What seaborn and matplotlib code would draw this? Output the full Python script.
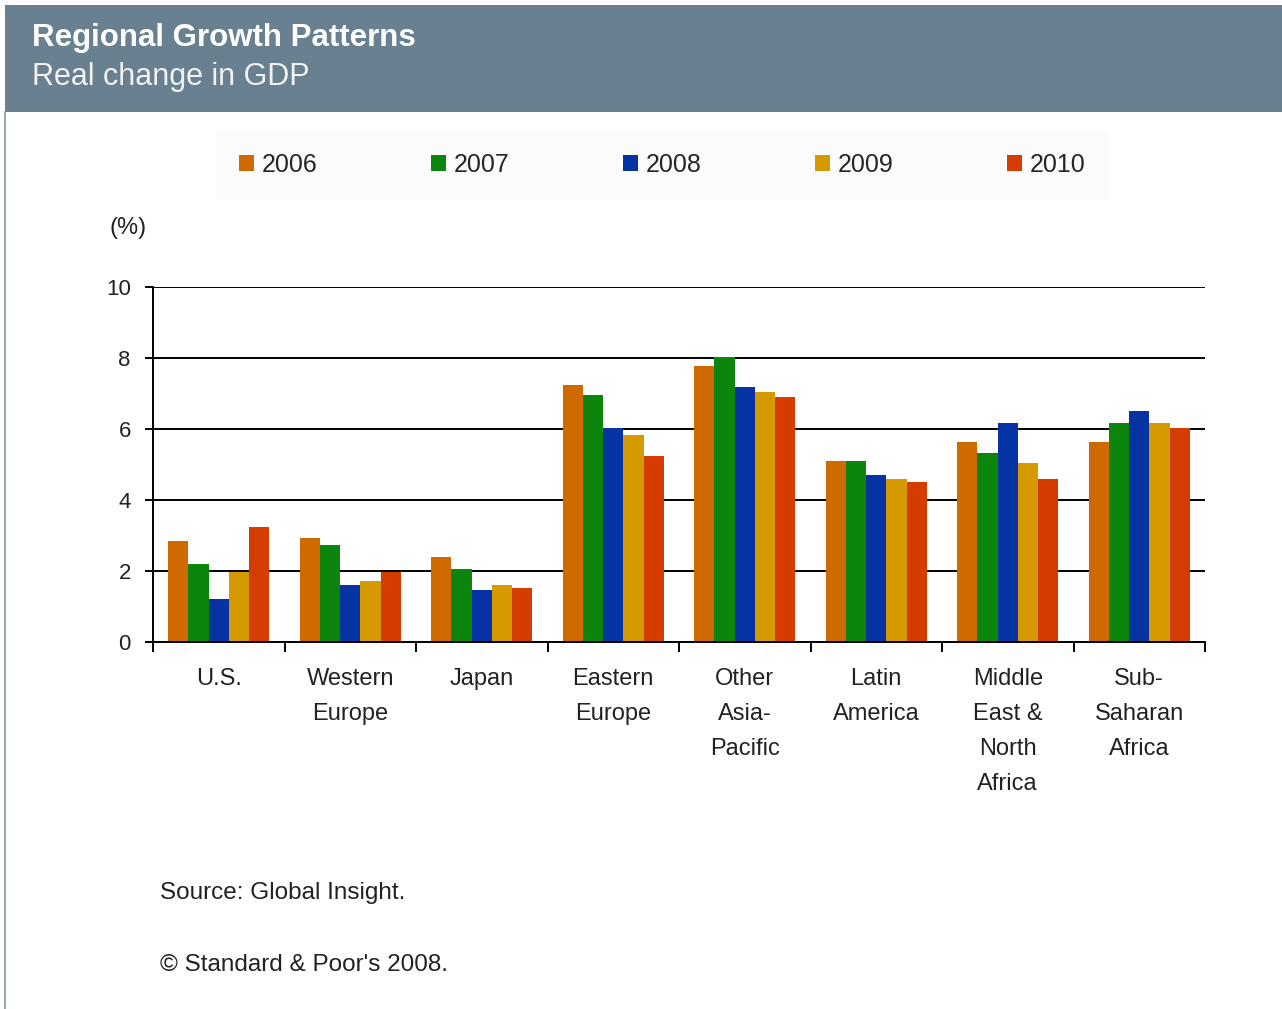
import seaborn as sns
import numpy as np
import pandas as pd
import matplotlib.pyplot as plt
from matplotlib.patches import Rectangle
from matplotlib.lines import Line2D

regions = ['U.S.', 'Western\nEurope', 'Japan', 'Eastern\nEurope', 'Other\nAsia-\nPacific',
           'Latin\nAmerica', 'Middle\nEast &\nNorth\nAfrica', 'Sub-\nSaharan\nAfrica']
years = ['2006', '2007', '2008', '2009', '2010']
gdp_2006 = [2.85, 2.92, 2.39, 7.23, 7.77, 5.10, 5.63, 5.63]
gdp_2007 = [2.20, 2.73, 2.06, 6.97, 8.02, 5.10, 5.31, 6.16]
gdp_2008 = [1.20, 1.60, 1.46, 6.03, 7.17, 4.71, 6.18, 6.50]
gdp_2009 = [1.98, 1.73, 1.60, 5.84, 7.03, 4.58, 5.05, 6.16]
gdp_2010 = [3.25, 1.97, 1.53, 5.24, 6.91, 4.52, 4.58, 6.03]
colors = ['#cf6a00', '#0b850b', '#0633a3', '#d49a00', '#d43c00']

# long form table for seaborn
df = pd.DataFrame({'Region': regions * 5,
                   'Year': np.repeat(years, len(regions)),
                   'GDP': gdp_2006 + gdp_2007 + gdp_2008 + gdp_2009 + gdp_2010})

sns.set_style('white')
plt.rcParams['font.family'] = ['Liberation Sans', 'DejaVu Sans']

W, H = 1282, 1009
fig = plt.figure(figsize=(W / 100, H / 100), dpi=100)

# header band and left frame line
fig.patches.append(Rectangle((5 / W, 1 - 112 / H), 1, 107 / H, transform=fig.transFigure,
                             facecolor='#68808f', edgecolor='none', zorder=0))
fig.lines.append(Line2D([5 / W, 5 / W], [0, 1 - 112 / H], transform=fig.transFigure,
                        color='#9aa8b2', lw=1.5))
fig.text(32 / W, 1 - 38 / H, 'Regional Growth Patterns', color='white', fontsize=22.5,
         fontweight='bold', va='center', ha='left')
fig.text(32 / W, 1 - 77 / H, 'Real change in GDP', color='#f2f2f2', fontsize=22,
         va='center', ha='left')

ax = fig.add_axes([153 / W, 1 - 642 / H, (1205 - 153) / W, (642 - 287) / H])
sns.barplot(data=df, x='Region', y='GDP', hue='Year', palette=colors, width=0.77,
            saturation=1, ax=ax, linewidth=0, errorbar=None)

ax.set_ylim(0, 10)
ax.set_xlim(-0.5, 7.5)
ax.set_yticks([0, 2, 4, 6, 8, 10])
ax.yaxis.grid(True, color='black', lw=1.4)
ax.set_axisbelow(True)
for s in ['top', 'right']:
    ax.spines[s].set_visible(False)
for s in ['left', 'bottom']:
    ax.spines[s].set_color('black')
    ax.spines[s].set_linewidth(1.4)
ax.set_xlabel('')
ax.set_ylabel('')
ax.set_xticks(range(len(regions)))
ax.set_xticklabels(regions, linespacing=1.75)
ax.set_xticks(np.arange(-0.5, 8, 1), minor=True)
ax.tick_params(axis='x', which='major', length=0, pad=19, labelsize=17, labelcolor='#222222')
ax.tick_params(axis='x', which='minor', length=7, width=1.4, color='black', direction='out')
ax.tick_params(axis='y', length=6, width=1.4, color='black', direction='out', pad=10,
               labelsize=16, labelcolor='#222222')
ax.tick_params(axis='both', which='both', bottom=True, left=True)

fig.text(128 / W, 1 - 228 / H, '(%)', fontsize=17, color='#222222', ha='center', va='center')

sns.move_legend(ax, 'center', bbox_to_anchor=(662 / W, 1 - 165 / H),
                bbox_transform=fig.transFigure, ncol=5, title=None, frameon=True,
                fontsize=18, handlelength=0.6, handleheight=0.6, handletextpad=0.3,
                columnspacing=4.55, borderpad=0.6)
leg = ax.get_legend()
leg.get_frame().set_facecolor('#fbfbfb')
leg.get_frame().set_edgecolor('none')
leg.get_frame().set_boxstyle('square')

fig.text(160 / W, 1 - 893 / H, 'Source: Global Insight.', fontsize=17.5, color='#222222',
         va='center')
fig.text(160 / W, 1 - 965 / H, '\u00a9 Standard & Poor\'s 2008.', fontsize=17.5, color='#222222',
         va='center')

fig.savefig('out.png', dpi=100, facecolor='white')
